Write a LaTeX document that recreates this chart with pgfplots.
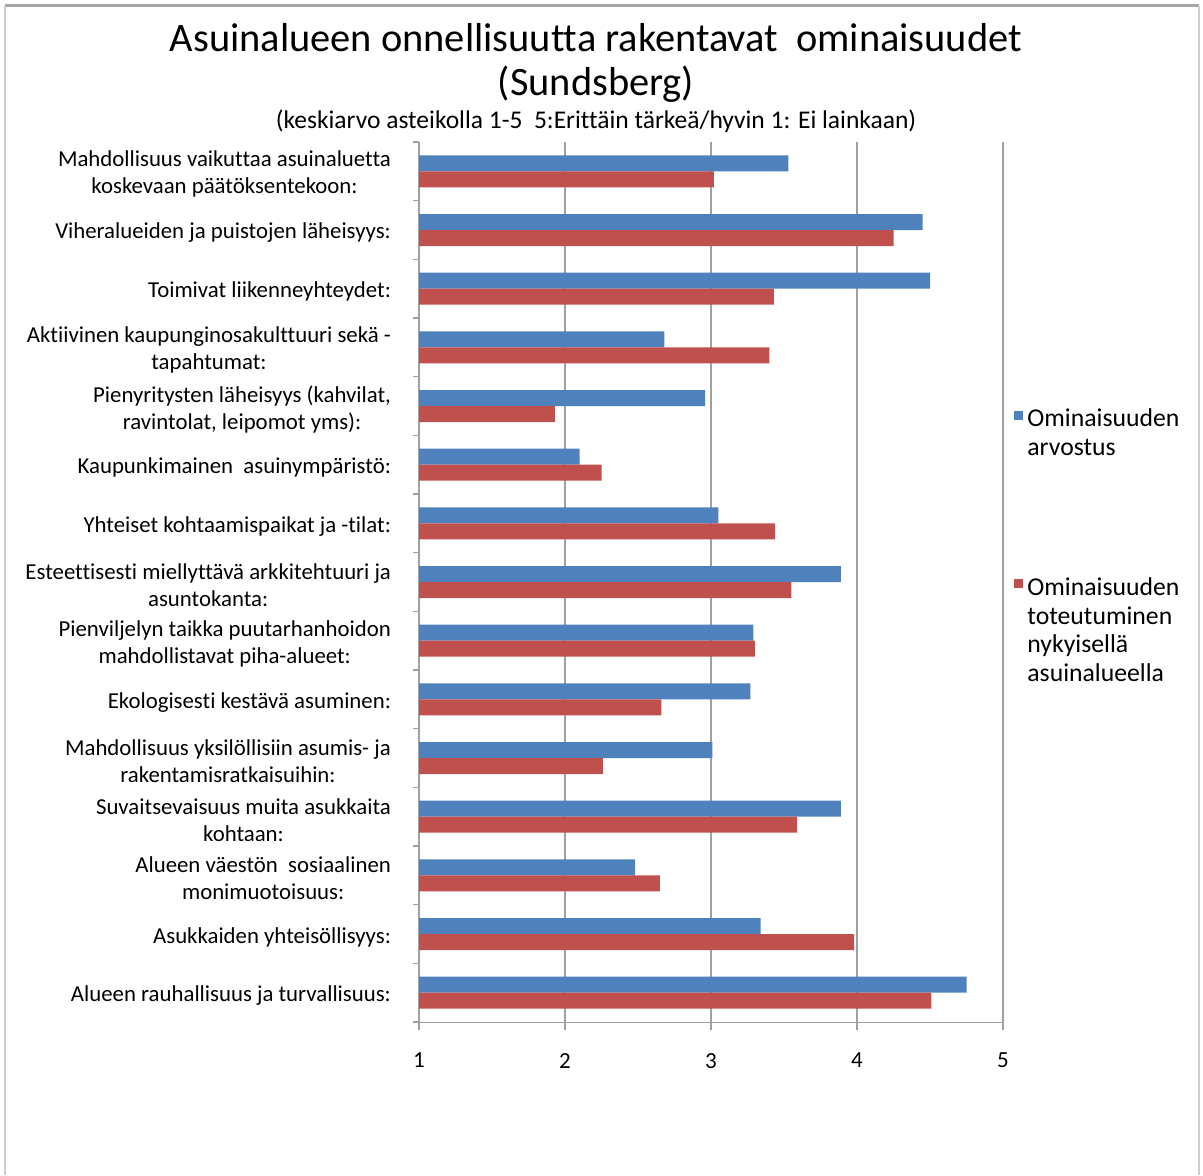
\documentclass[border=0pt]{standalone}
\usepackage{fontspec}
\setmainfont[Ligatures=NoCommon]{Carlito}
\usepackage{pgfplots}
\usepackage{pgfplotstable}
\pgfplotsset{compat=1.18}
\definecolor{xlblue}{HTML}{4F81BD}
\definecolor{xlred}{HTML}{C0504D}
\definecolor{xlgrid}{HTML}{A0A0A0}

% idx 0 = top category
\pgfplotstableread{
idx arvostus toteutuminen
0  3.53 3.02
1  4.45 4.25
2  4.50 3.43
3  2.68 3.40
4  2.96 1.93
5  2.10 2.25
6  3.05 3.44
7  3.89 3.55
8  3.29 3.30
9  3.27 2.66
10 3.01 2.26
11 3.89 3.59
12 2.48 2.65
13 3.34 3.98
14 4.75 4.51
}\datatable

\begin{document}
\begin{tikzpicture}
\useasboundingbox (0pt,0pt) rectangle (601.5pt,587.5pt);
% frame
\draw[gray!70, line width=1.5pt] (2.5pt,584.5pt) -- (599.5pt,584.5pt);
\draw[gray!40, line width=0.6pt] (2.5pt,584.5pt) -- (2.5pt,0pt);
\draw[gray!40, line width=0.6pt] (599.5pt,584.5pt) -- (599.5pt,0pt);
% titles
\node[font=\fontsize{20.2}{24}\selectfont] at (298pt,568.5pt) {Asuinalueen onnellisuutta rakentavat\ \ ominaisuudet};
\node[font=\fontsize{20.2}{24}\selectfont] at (298pt,545.5pt) {(Sundsberg)};
\node[font=\fontsize{12.75}{15}\selectfont] at (298pt,527pt) {(keskiarvo asteikolla 1-5\ \ 5:Erittäin tärkeä/hyvin 1: Ei lainkaan)};

\begin{axis}[
  at={(209.5pt,76.5pt)}, anchor=south west,
  scale only axis,
  width=292pt, height=440pt,
  xbar, bar width=8pt,
  xmin=1, xmax=5,
  ymin=-0.5, ymax=14.5,
  y dir=reverse,
  axis x line*=bottom, axis y line*=left,
  axis line style={xlgrid},
  xtick={1,2,3,4,5},
  xmajorgrids, grid style={xlgrid, line width=0.6pt},
  tick align=outside,
  major tick length=4pt,
  minor tick length=3pt,
  x tick style={xlgrid, line width=0.6pt},
  ytick={0,...,14},
  y tick style={draw=none},
  minor ytick={-0.5,0.5,...,14.5},
  minor y tick style={draw=xlgrid, line width=0.6pt},
  /pgf/number format/assume math mode=true,
  xticklabel style={font=\fontsize{11.5}{13}\selectfont, yshift=-8pt},
  yticklabel style={font=\fontsize{11.4}{13.5}\selectfont, align=center, xshift=-6.5pt, yshift=-1.5pt},
  yticklabels={
    {Mahdollisuus vaikuttaa asuinaluetta\\koskevaan päätöksentekoon:},
    {Viheralueiden ja puistojen läheisyys:},
    {Toimivat liikenneyhteydet:},
    {Aktiivinen kaupunginosakulttuuri sekä -\\tapahtumat:},
    {Pienyritysten läheisyys (kahvilat,\\ravintolat, leipomot yms):},
    {Kaupunkimainen\ \ asuinympäristö:},
    {Yhteiset kohtaamispaikat ja -tilat:},
    {Esteettisesti miellyttävä arkkitehtuuri ja\\asuntokanta:},
    {Pienviljelyn taikka puutarhanhoidon\\mahdollistavat piha-alueet:},
    {Ekologisesti kestävä asuminen:},
    {Mahdollisuus yksilöllisiin asumis- ja\\rakentamisratkaisuihin:},
    {Suvaitsevaisuus muita asukkaita\\kohtaan:},
    {Alueen väestön\ \ sosiaalinen\\monimuotoisuus:},
    {Asukkaiden yhteisöllisyys:},
    {Alueen rauhallisuus ja turvallisuus:}
  },
  legend image code/.code={\fill[#1] (0pt,0pt) rectangle (4.5pt,4.5pt);},
  legend style={at={(1.0,0.706)}, xshift=3.5pt, anchor=north west, draw=none, fill=none,
    font=\fontsize{12.85}{14.25}\selectfont, row sep=70pt,
    cells={anchor=west}, inner xsep=2pt},
]
\addplot[fill=xlblue, draw=none, bar shift=4pt] table[x=arvostus, y=idx] {\datatable};
\addlegendentry{\vtop{\hbox{Ominaisuuden}\hbox{arvostus}}}
\addplot[fill=xlred, draw=none, bar shift=-4pt] table[x=toteutuminen, y=idx] {\datatable};
\addlegendentry{\vtop{\hbox{Ominaisuuden}\hbox{toteutuminen}\hbox{nykyisellä}\hbox{asuinalueella}}}
\end{axis}
\end{tikzpicture}
\end{document}
